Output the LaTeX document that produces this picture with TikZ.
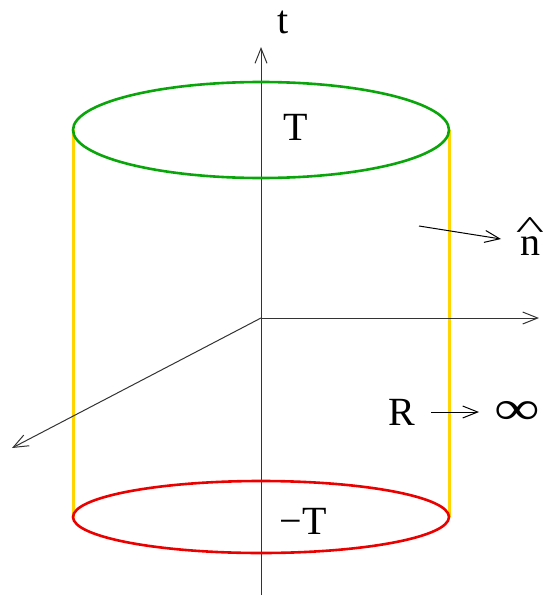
\documentclass[tikz,border=0pt]{standalone}
\usepackage{fontspec}
\setmainfont{Liberation Serif}
\usetikzlibrary{arrows.meta}
\definecolor{cgreen}{RGB}{10,165,10}
\definecolor{cred}{RGB}{235,0,0}
\definecolor{cgold}{RGB}{255,212,0}
\tikzset{
  ax/.style={draw=black!80,line width=1pt,-{Straight Barb[length=15pt,width=12pt,line width=1pt]}},
  rim/.style={line width=2.6pt},
  side/.style={draw=cgold,line width=3pt},
  lbl/.style={font=\fontsize{40}{44}\selectfont,inner sep=0pt},
}

\begin{document}
\begin{tikzpicture}[x=1pt,y=-1pt]
\useasboundingbox (0,0) rectangle (543,597);
\coordinate (o) at (261,318);
\coordinate (tbot) at (261,595);
\coordinate (ttop) at (261,47);
\coordinate (xend) at (539,318);
\coordinate (yend) at (12,448);
\coordinate (tl) at (73,130);
\coordinate (tr) at (449,130);
\coordinate (bl) at (73,517);
\coordinate (br) at (449,517);
\coordinate (ns) at (419,226);
\coordinate (ne) at (501,239);
\coordinate (rs) at (431,412);
\coordinate (re) at (479,412);
% cylinder sides
\draw[side] (tl) -- (bl);
\draw[side] (tr) -- (br);
% axes
\draw[ax] (tbot) -- (ttop);
\draw[ax] (o) -- (xend);
\draw[ax] (o) -- (yend);
% top and bottom
\draw[rim,draw=cgreen] (261,130) ellipse (188 and 48);
\draw[rim,draw=cred] (261,517) ellipse (188 and 36);
% labels
\node[lbl] (tlab) at (283,22) {t};
\node[lbl] (ttxt) at (296,127) {T};
\node[lbl] (mtxt) at (303,521) {−T};
\node[lbl,anchor=base] (nhat) at (530,255)
  {\ooalign{n\cr\hidewidth\raise17pt\hbox{\scalebox{1.5}[0.8]{\^{}}}\hidewidth\cr}};
\node[lbl] (rlab) at (402,412) {R};
\node[lbl,xscale=1.6,yscale=1.2] (inf) at (517,413) {∞};
\draw[ax,draw=black] (ns) -- (ne);
\draw[ax,draw=black] (rs) -- (re);
\end{tikzpicture}
\end{document}
